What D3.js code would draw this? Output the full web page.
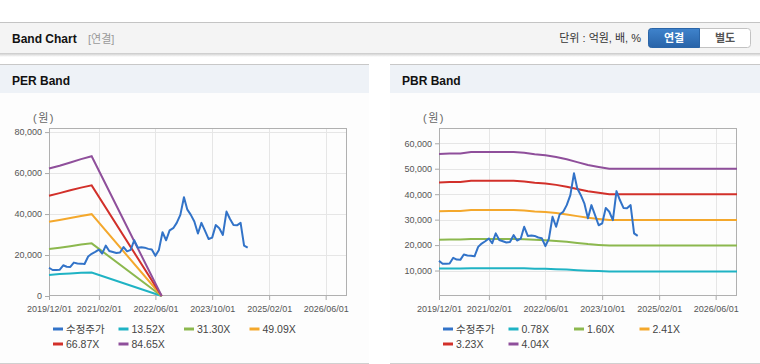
<!DOCTYPE html>
<html>
<head>
<meta charset="utf-8">
<script src="https://cdn.jsdelivr.net/npm/d3@7"></script>
<style>
  body { margin: 0; background: #fff; }
  svg text { font-family: "Liberation Sans", Arial, "Noto Sans CJK KR", sans-serif; }
</style>
</head>
<body>
<div id="chart"></div>
<script>
// 수정주가 (월별, 2019/12 ~ 2024/08)
const priceStart = "2019/12/01"
const priceValues = [13800, 12700, 12700, 12800, 15000, 14300, 14200, 16300, 15900, 15800, 15600, 19300,
  20600, 21500, 22600, 20700, 24600, 22000, 21500, 21000, 21200, 23900, 21800, 22500,
  27200, 23600, 23800, 23600, 23000, 22700, 19600, 22500, 31100, 27200, 32000, 33100,
  35700, 39600, 48200, 42300, 39600, 36400, 30500, 35700, 31800, 27800, 28500, 34600,
  33100, 29800, 41200, 37700, 34600, 34500, 35700, 24600, 23600]

// PER 밴드
const perDates = ["2019/12/01", "2020/03/01", "2020/06/01", "2020/09/01", "2020/12/01", "2022/07/25"]
const perLabels = ["13.52X", "31.30X", "49.09X", "66.87X", "84.65X"]
const per1 = [10300, 10700, 11000, 11300, 11500, 0]
const per2 = [22900, 23600, 24300, 25100, 25700, 0]
const per3 = [36200, 37100, 38100, 39100, 39950, 0]
const per4 = [48900, 50200, 51600, 52900, 54000, 0]
const per5 = [62200, 63600, 65200, 66800, 68200, 0]

// PBR 밴드
const pbrDates = ["2019/12/01", "2020/03/01", "2020/06/01", "2020/09/01", "2020/12/01", "2021/03/01",
  "2021/06/01", "2021/09/01", "2021/12/01", "2022/03/01", "2022/06/01", "2022/09/01",
  "2022/12/01", "2023/03/01", "2023/06/01", "2023/09/01", "2023/12/01", "2026/12/01"]
const pbrLabels = ["0.78X", "1.60X", "2.41X", "3.23X", "4.04X"]
const pbr1 = [10773, 10812, 10812, 10928, 10928, 10928, 10928, 10928, 10870, 10754, 10677, 10542, 10368, 10156, 9943, 9789, 9653, 9653]
const pbr2 = [22099, 22178, 22178, 22416, 22416, 22416, 22416, 22416, 22298, 22059, 21901, 21624, 21267, 20832, 20397, 20080, 19802, 19802]
const pbr3 = [33287, 33405, 33405, 33764, 33764, 33764, 33764, 33764, 33586, 33227, 32988, 32571, 32034, 31378, 30723, 30246, 29826, 29826]
const pbr4 = [44613, 44771, 44771, 45252, 45252, 45252, 45252, 45252, 45013, 44532, 44212, 43653, 42933, 42055, 41176, 40537, 39974, 39974]
const pbr5 = [55800, 56000, 56000, 56600, 56600, 56600, 56600, 56600, 56300, 55700, 55300, 54600, 53700, 52600, 51500, 50700, 50000, 50000]

// 축
const xDomain = ["2019/12/01", "2026/12/01"]
const xTickLabels = ["2019/12/01", "2021/02/01", "2022/06/01", "2023/10/01", "2025/02/01", "2026/06/01"]
const perYTicks = [0, 20000, 40000, 60000, 80000]
const pbrYTicks = [10000, 20000, 30000, 40000, 50000, 60000]

const colors = ["#3273c8", "#1fb3c4", "#8cb84e", "#f4a82c", "#d2302a", "#8f4f9b"]

const parse = d3.timeParse("%Y/%m/%d")

const svg = d3.select("#chart").append("svg")
  .attr("width", 760).attr("height", 364)

// 상단 바
const defs = svg.append("defs")
const sh = defs.append("linearGradient").attr("id", "shadow").attr("x1", 0).attr("x2", 0).attr("y1", 0).attr("y2", 1)
sh.append("stop").attr("offset", 0).attr("stop-color", "#c8c8c8")
sh.append("stop").attr("offset", 1).attr("stop-color", "#fff")
const btn = defs.append("linearGradient").attr("id", "btn").attr("x1", 0).attr("x2", 0).attr("y1", 0).attr("y2", 1)
btn.append("stop").attr("offset", 0).attr("stop-color", "#3f83cc")
btn.append("stop").attr("offset", 1).attr("stop-color", "#2863a8")

svg.append("rect").attr("x", 0).attr("y", 22).attr("width", 760).attr("height", 31).attr("fill", "#f4f4f4")
svg.append("line").attr("x1", 0).attr("x2", 760).attr("y1", 22.5).attr("y2", 22.5).attr("stroke", "#c4c4c4")
svg.append("rect").attr("x", 0).attr("y", 53).attr("width", 760).attr("height", 4).attr("fill", "url(#shadow)")

svg.append("text").attr("x", 12).attr("y", 43).attr("font-size", 12).attr("font-weight", "bold")
  .attr("fill", "#111").text("Band Chart")
svg.append("text").attr("x", 88).attr("y", 43).attr("font-size", 11).attr("fill", "#999").text("[연결]")
svg.append("text").attr("x", 641).attr("y", 42).attr("font-size", 11).attr("text-anchor", "end")
  .attr("fill", "#333").text("단위 : 억원, 배, %")

svg.append("rect").attr("x", 648.5).attr("y", 28.5).attr("width", 102).attr("height", 19).attr("rx", 3)
  .attr("fill", "#fff").attr("stroke", "#c2c2c2")
svg.append("path").attr("d", "M699.5,28.5 H651.5 Q648.5,28.5 648.5,31.5 V44.5 Q648.5,47.5 651.5,47.5 H699.5 Z")
  .attr("fill", "url(#btn)").attr("stroke", "#2a65a8")
svg.append("text").attr("x", 674).attr("y", 42).attr("text-anchor", "middle").attr("font-size", 11)
  .attr("font-weight", "bold").attr("fill", "#fff").text("연결")
svg.append("text").attr("x", 725).attr("y", 42).attr("text-anchor", "middle").attr("font-size", 11)
  .attr("font-weight", "bold").attr("fill", "#555").text("별도")

function BandChart(ox, pw, title, yMax, yTicks, bandDates, bands, labels) {
  const g = svg.append("g").attr("transform", `translate(${ox},0)`)

  // 패널
  g.append("rect").attr("x", 0).attr("y", 64).attr("width", pw).attr("height", 299).attr("fill", "#fdfdfd")
  g.append("rect").attr("x", 0).attr("y", 65).attr("width", pw).attr("height", 28).attr("fill", "#eef2f7")
  g.append("line").attr("x1", 0).attr("x2", pw).attr("y1", 64.5).attr("y2", 64.5).attr("stroke", "#c8c8c8")
  g.append("line").attr("x1", 0).attr("x2", pw).attr("y1", 363.5).attr("y2", 363.5).attr("stroke", "#d0d0d0")
  g.append("text").attr("x", 12).attr("y", 85).attr("font-size", 12).attr("font-weight", "bold")
    .attr("fill", "#111").text(title)

  const left = 49, right = 347, top = 128, bottom = 296

  const x = d3.scaleTime().domain(xDomain.map(parse)).range([left, right])
  const y = d3.scaleLinear().domain([0, yMax]).range([bottom, top])
  const xTicks = xTickLabels.map(parse)

  // 그리드
  g.append("g").selectAll("line").data(xTicks.slice(1)).join("line")
    .attr("x1", d => Math.round(x(d)) + 0.5).attr("x2", d => Math.round(x(d)) + 0.5)
    .attr("y1", top).attr("y2", bottom).attr("stroke", "#e6e6e6")
  g.append("g").selectAll("line").data(yTicks.filter(v => v > 0)).join("line")
    .attr("x1", left).attr("x2", right)
    .attr("y1", d => Math.round(y(d)) + 0.5).attr("y2", d => Math.round(y(d)) + 0.5).attr("stroke", "#e6e6e6")

  // 축
  const ax = g.append("g").attr("transform", `translate(0,${bottom})`)
    .call(d3.axisBottom(x).tickValues(xTicks).tickFormat(d3.timeFormat("%Y/%m/%d")).tickSize(4).tickPadding(6))
  ax.select(".domain").remove()
  ax.selectAll("line").attr("stroke", "#aaa")
  ax.selectAll("text").attr("font-size", 9).attr("fill", "#555")
    .style("font-family", '"Liberation Sans", Arial, sans-serif')

  const ay = g.append("g").attr("transform", `translate(${left},0)`)
    .call(d3.axisLeft(y).tickValues(yTicks).tickFormat(d3.format(",")).tickSize(4).tickPadding(3))
  ay.select(".domain").remove()
  ay.selectAll("line").attr("stroke", "#aaa")
  ay.selectAll("text").attr("font-size", 9).attr("fill", "#555")
    .style("font-family", '"Liberation Sans", Arial, sans-serif')

  g.append("text").attr("x", 33).attr("y", 122).attr("font-size", 11).attr("letter-spacing", 1.5)
    .attr("fill", "#666").text("(원)")

  g.append("rect").attr("x", left + 0.5).attr("y", top + 0.5).attr("width", right - left - 1)
    .attr("height", bottom - top - 1).attr("fill", "none").attr("stroke", "#b0b0b0")

  // 밴드
  const line = d3.line().x(d => x(d[0])).y(d => y(d[1]))
  const bd = bandDates.map(parse)
  bands.forEach((vals, i) => {
    g.append("path").datum(vals.map((v, j) => [bd[j], v]))
      .attr("d", line).attr("fill", "none").attr("stroke", colors[i + 1]).attr("stroke-width", 2)
  })

  // 수정주가
  const p0 = parse(priceStart)
  g.append("path").datum(priceValues.map((v, i) => [d3.timeMonth.offset(p0, i), v]))
    .attr("d", line).attr("fill", "none").attr("stroke", colors[0]).attr("stroke-width", 2)
    .attr("stroke-linejoin", "round")

  // 범례
  const names = ["수정주가"].concat(labels)
  const lg = g.append("g").selectAll("g").data(names).join("g")
    .attr("transform", (d, i) => `translate(${53 + (i % 4) * 65.5},${i < 4 ? 329 : 344})`)
  lg.append("line").attr("x1", 0).attr("x2", 10).attr("y1", 0).attr("y2", 0)
    .attr("stroke", (d, i) => colors[i]).attr("stroke-width", 3)
  lg.append("text").attr("x", 13).attr("y", 4).attr("font-size", 10.5).attr("fill", "#444")
    .text(d => d)
}

BandChart(0, 369, "PER Band", 82000, perYTicks, perDates, [per1, per2, per3, per4, per5], perLabels)
BandChart(390, 370, "PBR Band", 66000, pbrYTicks, pbrDates, [pbr1, pbr2, pbr3, pbr4, pbr5], pbrLabels)
</script>
</body>
</html>
